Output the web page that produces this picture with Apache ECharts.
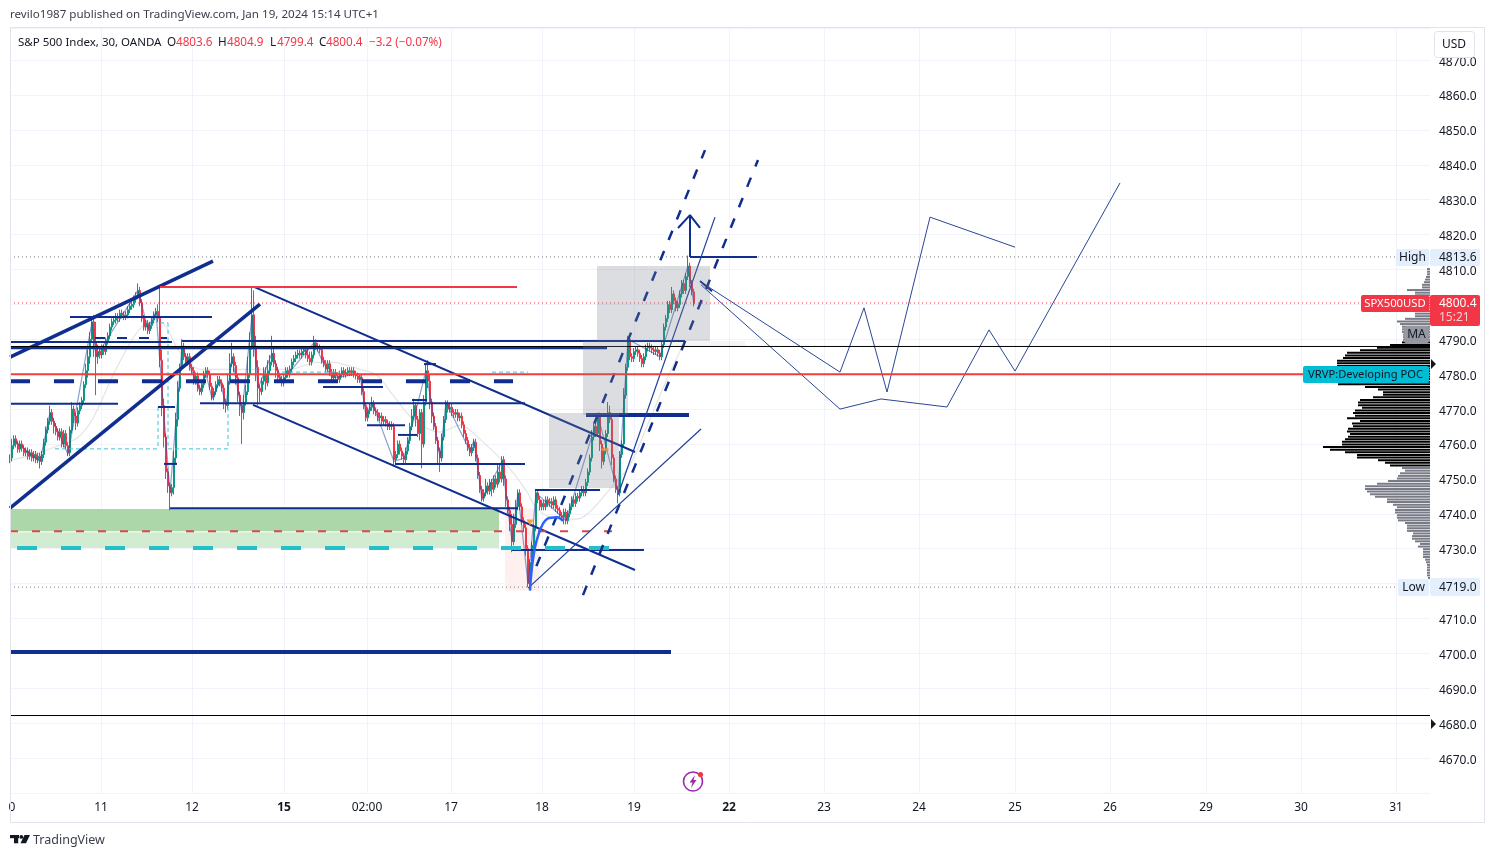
<!DOCTYPE html>
<html><head><meta charset="utf-8">
<style>html,body{margin:0;padding:0;background:#fff}#c{width:1494px;height:857px}</style>
<script src="https://cdn.jsdelivr.net/npm/echarts@6/dist/echarts.min.js"></script>
</head><body><div id="c"></div>
<script>
// ---- price data: one bar per 30 minutes, x axis counted in bars
const closes=[
4756.0,4759.5,4761.5,4760.0,4758.5,4760.0,4758.8,4757.5,4758.0,4756.5,
4757.5,4756.0,4757.0,4755.5,4756.5,4755.0,4757.0,4760.5,4764.0,4766.5,
4769.0,4766.5,4765.0,4763.5,4762.0,4763.5,4760.0,4763.0,4759.5,4757.5,
4764.0,4770.0,4768.0,4766.0,4769.5,4771.0,4772.5,4777.0,4781.0,4785.0,
4790.0,4795.0,4789.0,4785.0,4786.5,4785.5,4787.5,4786.5,4789.5,4791.0,
4793.5,4795.0,4795.5,4796.5,4796.0,4797.5,4797.0,4796.5,4797.0,4798.5,
4799.5,4800.0,4801.5,4802.5,4804.0,4800.5,4796.0,4793.5,4794.5,4792.5,
4794.0,4795.5,4797.0,4798.0,4796.0,4784.0,4771.0,4762.0,4752.0,4748.0,
4746.0,4747.5,4756.0,4767.0,4776.0,4782.0,4788.0,4785.0,4783.5,4785.0,
4782.0,4781.0,4778.0,4779.5,4776.0,4775.0,4777.0,4780.0,4781.0,4780.0,
4776.5,4773.5,4775.0,4777.0,4778.5,4777.5,4776.0,4772.0,4771.0,4778.0,
4783.0,4785.0,4782.5,4779.0,4774.0,4771.0,4769.0,4772.0,4775.0,4780.0,
4788.0,4797.0,4788.0,4782.0,4776.0,4775.0,4778.0,4780.0,4777.5,4781.0,
4783.5,4786.0,4783.0,4781.0,4779.0,4778.5,4777.5,4779.0,4781.0,4780.0,
4781.5,4783.5,4784.5,4785.5,4786.0,4785.5,4786.5,4787.0,4785.5,4784.5,
4783.5,4785.5,4789.0,4788.0,4787.5,4787.0,4784.0,4783.0,4781.5,4783.0,
4780.5,4779.0,4780.5,4779.5,4778.5,4780.0,4781.0,4780.0,4780.5,4781.0,
4780.5,4781.0,4780.0,4779.5,4778.5,4779.0,4775.0,4771.0,4767.5,4769.5,
4770.5,4771.5,4769.5,4769.0,4767.5,4768.0,4766.5,4767.0,4766.0,4765.0,
4765.5,4765.0,4755.5,4757.0,4760.0,4758.0,4756.5,4755.5,4758.0,4761.0,
4765.0,4768.0,4771.0,4767.0,4763.0,4769.0,4760.0,4772.0,4781.0,4778.0,
4772.0,4768.0,4765.0,4761.0,4758.0,4756.0,4762.0,4767.0,4771.5,4770.0,
4770.5,4769.0,4768.5,4769.0,4767.5,4768.0,4765.5,4763.0,4761.0,4759.0,
4757.5,4759.0,4760.5,4756.0,4751.0,4747.0,4744.5,4746.0,4748.0,4746.5,
4749.0,4747.0,4750.0,4748.5,4752.0,4750.0,4755.5,4750.0,4744.0,4741.0,
4737.0,4732.0,4737.0,4742.0,4746.0,4742.0,4738.0,4736.0,4730.0,4720.0,
4726.0,4731.0,4736.0,4746.0,4744.0,4742.0,4743.0,4742.0,4744.0,4743.0,
4743.5,4742.5,4744.0,4741.5,4741.0,4739.5,4739.0,4740.5,4738.0,4740.0,
4742.0,4744.0,4743.0,4745.0,4744.5,4746.0,4747.0,4746.0,4749.0,4752.0,
4756.0,4762.0,4765.0,4763.0,4768.0,4760.0,4755.0,4758.0,4763.0,4769.0,
4767.0,4756.0,4750.0,4747.0,4746.0,4757.0,4760.0,4774.0,4782.0,4790.0,
4785.0,4784.5,4786.5,4787.0,4786.0,4784.5,4783.0,4785.0,4787.5,4788.0,
4787.5,4787.0,4786.5,4787.0,4786.0,4785.0,4788.5,4793.5,4796.0,4800.0,
4798.5,4803.0,4801.0,4799.0,4800.0,4803.0,4806.0,4804.0,4808.0,4811.0,
4806.0,4803.6,4800.4];
const firstOpen=4755.5;
const upperWicks=[
1,2,1,1,1,1,1,1,1,1, 1,1,1,1,1,1,1,1,1,1, 2,1,1,1,1,1,1,1,1,1, 1,2,1,1,1,1,1,1,2,2,
2,1,2,6,2,1,1,1,1,1, 1,1,1,1,1,1,1,1,1,1, 1,1,1,1,2,1,1,1,1,1, 1,1,1,1,2,9,3,2,1,1,
1,1,2,2,2,1,2,1,1,1, 1,1,1,1,1,1,1,1,1,1, 1,1,1,1,1,1,1,1,1,2, 3,4,1,1,1,1,1,2,2,5,
4,8,7,3,2,1,1,2,2,3, 2,5,2,1,1,1,1,1,1,1, 1,1,1,1,1,1,1,1,1,2, 2,1,2,1,1,1,1,1,1,1,
1,1,1,1,1,1,1,1,1,1, 1,1,1,1,1,1,1,1,1,1, 1,2,1,1,1,1,1,1,1,1, 1,1,1,1,1,1,1,1,1,1,
1,2,2,1,1,1,1,2,2,3, 2,1,1,1,1,1,1,1,1,1, 1,1,1,1,1,1,1,1,1,1, 1,1,1,1,1,1,1,1,2,1,
1,1,1,1,2,2,1,1,1,1, 1,3,3,2,1,1,1,1,1,1, 1,1,1,1,1,1,1,1,1,1, 1,1,1,1,1,1,1,1,1,1,
1,1,1,1,1,1,1,1,1,1, 1,2,1,1,1,1,1,1,1,3, 2,1,1,1,1,1,1,2,1,1, 1,1,1,1,1,1,1,1,1,1,
1,1,1,1,1,1,1,1,1,1, 1,2,1,1,1,1,1,1,1,3, 1,1,0.9];
const lowerWicks=[
1,1,1,1,1,1,1,1,1,1, 1,1,1,1,1,2,1,1,1,1, 1,1,2,1,1,1,1,1,1,1, 1,1,2,2,1,1,1,1,1,2,
2,1,4,11,2,1,1,1,1,1, 1,1,1,1,1,1,1,1,1,1, 1,1,1,1,1,1,1,1,1,1, 1,1,1,1,1,2,3,3,2,2,
5,1,2,2,2,1,1,1,1,1, 1,1,1,1,1,1,1,1,1,1, 1,1,1,1,1,1,1,2,2,1, 1,1,2,2,2,3,9,2,1,1,
1,1,3,4,5,3,1,1,2,1, 1,1,1,2,1,1,1,1,1,1, 1,1,1,1,1,1,1,1,1,1, 1,1,1,1,1,1,1,1,1,1,
1,1,1,1,1,1,1,1,1,1, 1,1,1,1,1,1,1,1,1,1, 1,1,1,1,1,1,1,1,1,1, 1,1,2,1,1,1,1,1,1,1,
1,1,1,2,1,2,7,1,1,2, 2,2,1,1,4,4,1,1,1,1, 1,1,1,1,1,1,1,1,1,1, 1,1,1,1,1,1,1,1,1,1,
1,2,1,1,1,1,1,2,2,1, 2,3,1,1,1,1,1,1,2,1, 1,1,1,1,1,1,1,1,1,1, 1,1,1,1,1,1,1,2,1,1,
1,1,1,1,1,1,1,1,1,1, 1,1,1,1,1,2,2,1,1,1, 1,2,1,1,3,1,1,1,1,1, 1,1,1,1,1,1,1,1,1,1,
1,1,1,1,1,1,1,1,1,1, 1,1,1,1,1,1,1,1,1,1, 1,1,1];
// ---- axis ticks
const gridValues=[45.5,91,137,178.5,220.5,266,312,359.5,407,454.5,502.5,550,598,645.5,693];
const tickNames=['11','12','15','02:00','17','18','19','22','23','24','25','26','29','30','31'];
const clippedTick=1, clippedName='0';
// ---- drawn objects, all in [bar, price]
const wedgeUpper=[[0,4784.9],[101.5,4812.4]], wedgeLower=[[0,4741.6],[125,4800.1]];
const channelUpper=[[122,4805],[312.5,4757.7]], channelLower=[[121.5,4771.2],[312.5,4723.9]];
const redTop=[[75,4805],[253.5,4805]];
const redLevel=[[0,4780],[650,4780]], blackLevels=[4787.94,4682.2];
const thinLevels=[[30,101,4796.4],[0,81,4789.2],[86,337.5,4789.5],[0,298.5,4787.6,3],[0,54,4771.5],[95,257.5,4771.7],
 [156.5,186.5,4776.3],[74,82.5,4770.6],[77,83.5,4754.3],[80,254,4741.6],[178.5,197.5,4765.4],[194,203.5,4762.6],
 [201,208.5,4772.6],[207,213,4782.9],[192.5,257.5,4754.3],[262.5,295,4746.8],[251,317,4729.6],[340,373.5,4813.6]];
const thickLevels=[[288,339.5,4768.3],[0,330.5,4700.4]];
const navyDash=[[0,251.5,4778]], navyShortDash=[[42.5,78.5,4790.4]];
const riseArrow=[[334,4821.9],[340,4825.6],[345,4821.9]], riseStem=[[340,4813.6],[340,4825.6]];
const dashRise1=[[263.2,4725],[347.5,4844.2]], dashRise2=[[286.5,4716.7],[374,4841.4]];
const thinRise1=[[259,4718.7],[345.5,4764.3]], thinRise2=[[304,4745.4],[352.5,4825]];
const forecastA=[[345.5,4806.4],[415,4780.6],[427,4799],[438.5,4774.9],[460,4825],[502.5,4816.4]];
const forecastB=[[345.5,4805.6],[415,4770],[435.5,4772.9],[468.5,4770.6],[489.5,4792.7],[502.5,4780.9],[555,4834.8]];
const forecastTick=[[345,4806.7],[351,4803.8]];
const blueCurve=[[260,4718],[261.5,4727],[264,4733.6],[268.5,4738.5],[273.5,4739],[276.5,4738]];
const pivots=[[2,4761],[15,4755],[20,4769],[29,4757],[41,4795],[43,4785],[64,4804],[69,4793],[73,4798],[80,4746],[86,4788],[95,4775],[98,4780],[101,4773],[105,4778],[108,4771],[111,4785],[116,4769],[121,4797],[124,4776],[131,4786],[136,4778],[152,4789],[156,4784],[161,4779],[175,4780],[178,4768],[181,4772],[192,4755],[197,4756],[208,4781],[215,4756],[218,4772],[230,4758],[232,4761],[236,4744],[246,4755],[251,4732],[254,4746],[259,4720],[263,4746],[278,4738],[294,4768],[304,4746],[309,4790],[325,4785],[339,4811],[342,4800]];
const maLine=[[0,4755.4],[11.5,4756.8],[23.5,4759.4],[33.5,4761.7],[41.5,4767.4],[51.5,4779.7],[61.5,4790.3],[68.5,4794.6],[75,4794.9],[85,4786.3],[95,4781.4],[140,4781.4],[153.5,4783.4],[161.5,4783.4],[175,4781.4],[183.5,4779.7],[191.5,4774],[201.5,4767.1],[215,4763.4],[225,4765.4],[236.5,4760.6],[250,4752.9],[258.5,4746.3],[263.5,4741.4],[273.5,4738.5],[283.5,4738.5],[290,4740.6],[300,4747.1],[310,4754],[320,4767.1],[328.5,4778.6],[336.5,4788.3]];
const cyanDashes=[[[22.5,4758.6],[74,4758.6]],[[79,4758.6],[109,4758.6]],[[74,4770.6],[74,4758.6]],[[79,4794.7],[79,4758.6]],[[75,4794.7],[79,4794.7]],[[109,4770.6],[109,4758.6]],[[136,4780.6],[165,4780.6]],[[241,4780.6],[259,4780.6]]];
const redDash=[[0,302,4735]], tealDash=[[3.5,300,4730.2]];
const greenBoxes=[[0,244.5,4741.4,4735,'#acd7a8'],[0,244.5,4734.7,4730.2,'#d2ecd2'],[247.5,264.5,4741.5,4718,'#fdf0ef']];
const greyBoxes=[[293.5,350,4811,4789.5],[286.5,309,4789.5,4768.3],[269.5,304.5,4768.9,4747.4]];
const paleBox=[[309,367.5,4789.5,4788]];
const orangeMarks=[[260,4737.5,'triangle'],[297.5,4758.4,'rect']];
const highPrice=4813.6,lowPrice=4719.0,lastPrice=4800.4;
const yMin=4660,yMax=4879.2,barsWide=710;
// ---- volume profile, top row first, in row lengths
const profileTop=4810.4,profileStep=0.75;
const profile=[3,3,3,4,5,6,8,8,23,15,15,10,8,8,10,12,14,15,15,25,33,30,28,28,28,27,27,27,28,
40,53,70,83,85,87,93,93,93,90,88,88,90,90,92,92,65,52,47,47,57,70,72,72,68,75,77,75,83,70,78,77,82,83,80,82,85,88,88,107,100,85,73,73,52,45,40,
28,25,30,32,33,42,53,65,65,63,60,55,43,43,37,33,35,35,33,33,32,25,23,23,23,17,18,18,15,10,12,7,7,7,7,5,4,3,3,3,3,3,2];
const blackFrom=28,blackTo=75;
// ---- texts
const titleText='revilo1987 published on TradingView.com, Jan 19, 2024 15:14 UTC+1';
const legendParts=[['S&P 500 Index, 30, OANDA',18,0],['O',167,0],['4803.6',176,1],['H',218,0],['4804.9',227,1],['L',270,0],['4799.4',277,1],['C',319,0],['4800.4',326,1],['\u22123.2 (\u22120.07%)',369,1]];

const FONT='"Noto Sans"',INK='#131722',RED='#f23645',NAVY='#0f2e8f';
let open=firstOpen;
const candles=closes.map((c,i)=>{const o=open;open=c;return [i,o,c,Math.min(o,c)-lowerWicks[i],Math.max(o,c)+upperWicks[i]];});
const series=[];
function line(pts,color,width,opt){opt=opt||{};series.push({type:'line',data:pts,symbol:'none',silent:true,z:opt.z||10,smooth:opt.smooth||false,
  lineStyle:{color,width,type:opt.dash||'solid',opacity:opt.op==null?1:opt.op,cap:'butt'}});}
function rects(list,colorOf,z){series.push({type:'custom',silent:true,z,data:list.map(r=>r.slice(0,4)),
  encode:{x:[0,1],y:[2,3]},
  renderItem(p,api){const a=api.coord([api.value(0),api.value(2)]),b=api.coord([api.value(1),api.value(3)]);
    return {type:'rect',shape:{x:a[0],y:a[1],width:b[0]-a[0],height:b[1]-a[1]},style:{fill:colorOf(list[p.dataIndex])}};}});}
rects(greenBoxes,r=>r[4],2);
line([[0,highPrice],[barsWide,highPrice]],'#787b86',1,{dash:[1,3],z:3});
line([[0,lowPrice],[barsWide,lowPrice]],'#787b86',1,{dash:[1,3],z:3});
line([[0,lastPrice],[barsWide,lastPrice]],RED,1,{dash:[1,3],z:3});
line(maLine,'#e4e4e6',1.2,{z:4,smooth:0.3});
series.push({type:'candlestick',data:candles,barWidth:2,silent:true,z:5,encode:{x:0,y:[1,2,3,4]},
  itemStyle:{color:'#089981',color0:RED,borderColor:'#089981',borderColor0:RED,borderWidth:1}});
line(pivots,'#2f4fa8',1.2,{z:6,op:0.55});
cyanDashes.forEach(s=>line(s,'#38c6d6',1,{dash:[4,3],z:7}));
line(wedgeUpper,NAVY,3.5);line(wedgeLower,NAVY,3.5);
line(channelUpper,NAVY,2);line(channelLower,NAVY,2);
line(redTop,RED,2);
thinLevels.forEach(l=>line([[l[0],l[2]],[l[1],l[2]]],NAVY,l[3]||2));
thickLevels.forEach(l=>line([[l[0],l[2]],[l[1],l[2]]],NAVY,4));
navyDash.forEach(l=>line([[l[0],l[2]],[l[1],l[2]]],NAVY,4,{dash:[20,24]}));
navyShortDash.forEach(l=>line([[l[0],l[2]],[l[1],l[2]]],NAVY,2,{dash:[10,12]}));
redDash.forEach(l=>line([[l[0],l[2]],[l[1],l[2]]],'#d84a4a',2,{dash:[8,14]}));
tealDash.forEach(l=>line([[l[0],l[2]],[l[1],l[2]]],'#22c1c9',4,{dash:[20,24]}));
line(redLevel,'#f23d3d',2,{z:11});
blackLevels.forEach(p=>line([[0,p],[barsWide,p]],'#000',1,{z:12}));
line(riseStem,NAVY,2);line(riseArrow,NAVY,2);
line(dashRise1,NAVY,2.5,{dash:[10,12]});line(dashRise2,NAVY,2.5,{dash:[10,12]});
line(thinRise1,'#1f3f9c',1.2);line(thinRise2,'#1f3f9c',1.2);
line(forecastA,'#2a4798',1);line(forecastB,'#2a4798',1);line(forecastTick,NAVY,2);
line(blueCurve,'#2962ff',2.5,{smooth:0.4,z:13});
rects(greyBoxes,()=>'rgba(120,123,134,0.26)',14);
rects(paleBox,()=>'rgba(120,123,134,0.08)',14);
series.push({type:'scatter',silent:true,z:15,data:orangeMarks.map(m=>({value:[m[0],m[1]],symbol:m[2],symbolRotate:m[2]==='triangle'?180:0,symbolSize:m[2]==='triangle'?[7,6]:[7,2.5]})),itemStyle:{color:'#f5962e',opacity:.9}});
series.push({type:'custom',silent:true,z:16,data:profile.map((v,i)=>[v,profileTop-i*profileStep,i]),
  encode:{x:0,y:1},
  renderItem(p,api){const v=api.value(0),pr=api.value(1),a=api.coord([barsWide-v/2,pr]),b=api.coord([barsWide,pr]);
    const idx=p.dataIndex,black=idx>=blackFrom&&idx<=blackTo;
    return {type:'rect',shape:{x:a[0],y:a[1],width:b[0]-a[0],height:2},style:{fill:black?'#000':'#787b86'}};}});

const chart=echarts.init(document.getElementById('c'),null,{renderer:'canvas',width:1494,height:857});
const boldTicks=new Set(['15','22']);
chart.setOption({animation:false,backgroundColor:'#fff',textStyle:{fontFamily:FONT},
 grid:{left:10,right:64,top:28,bottom:64,containLabel:false},
 xAxis:{type:'value',min:0,max:barsWide,
  axisLine:{show:false},
  axisTick:{show:false,customValues:gridValues},
  splitLine:{show:true,lineStyle:{color:'#f0f3fa',width:1}},
  axisLabel:{customValues:[clippedTick].concat(gridValues),margin:9,color:INK,fontSize:12,fontFamily:FONT,hideOverlap:false,
   formatter:v=>{if(v===clippedTick)return clippedName;const n=tickNames[gridValues.indexOf(v)];return boldTicks.has(n)?'{b|'+n+'}':n;},
   rich:{b:{fontWeight:'bold',fontSize:12,color:INK,fontFamily:FONT}}}},
 yAxis:{type:'value',position:'right',min:yMin,max:yMax,interval:10,scale:true,
  axisLine:{show:false},axisTick:{show:false},
  splitLine:{show:true,lineStyle:{color:'#f0f3fa',width:1}},
  axisLabel:{margin:9,color:INK,fontSize:12,fontFamily:FONT,showMinLabel:false,showMaxLabel:false,
   formatter:v=>'{p|'+v.toFixed(1)+'}',rich:{p:{padding:[4,0,0,0],fontSize:12,color:INK,fontFamily:FONT}}}},
 series});

const py=p=>Math.round(chart.convertToPixel({yAxisIndex:0},p));
const g=[];
function box(x,y,w,h,fill,r,z,stroke){g.push({type:'rect',z:z||100,silent:true,shape:{x,y,width:w,height:h,r:r||0},style:{fill,stroke:stroke||null,lineWidth:1}});}
function txt(x,y,text,fill,size,align,weight){g.push({type:'text',z:102,silent:true,x,y:y+1,style:{text,fill,font:(weight||'normal')+' '+(size||12)+'px '+FONT,textAlign:align||'left',textVerticalAlign:'middle'}});}
// frame
box(1432,28,51,29,'#fff',0,99);
g.push({type:'rect',z:98,silent:true,shape:{x:10.5,y:27.5,width:1474,height:795},style:{fill:null,stroke:'#e0e3eb',lineWidth:1}});
box(1434.5,31.5,40,26,'#fff',3,100,'#e0e3eb');txt(1454,44,'USD',INK,12,'center');
// title and legend
txt(10,14,titleText,'#3a3e4a',11.6);
legendParts.forEach(l=>txt(l[1],41.5,l[0],l[2]?RED:INK,l[1]===18?11.5:11.7));
// price tags
const hy=py(highPrice),ly=py(lowPrice),cy=py(lastPrice);
box(1396,hy-8,33,17,'#e3effd',2);txt(1412.5,hy,'High',INK,12,'center');
box(1430,hy-8,50,17,'#e3effd',2);txt(1439,hy,'4813.6',INK,12);
box(1398,ly-8,31,17,'#e3effd',2);txt(1413.5,ly,'Low',INK,12,'center');
box(1430,ly-9,50,18,'#e3effd',2);txt(1439,ly,'4719.0',INK,12);
box(1361,cy-8,68,17,RED,2);txt(1395,cy,'SPX500USD','#fff',11.3,'center');
box(1430,cy-8,50,31,RED,2);txt(1439,cy,'4800.4','#fff',12);txt(1439,cy+14,'15:21','#fbd0d5',12);
box(1404,py(4793.8),25,17,'#9598a1',2);txt(1416.5,py(4793.8)+8,'MA',INK,12,'center');
box(1303,py(4782.4),126,17,'#00bcd4',2);txt(1308,py(4782.4)+8,'VRVP:Developing POC',INK,11.2);
[py(4782.9),py(4682.2)+8].forEach(y=>g.push({type:'polygon',z:101,silent:true,shape:{points:[[1431,y-5],[1436,y],[1431,y+5]]},style:{fill:'#131722'}}));
// lightning icon
g.push({type:'circle',z:101,silent:true,shape:{cx:693,cy:781.5,r:9.5},style:{fill:'#fff',stroke:'#9c27b0',lineWidth:1.6}});
g.push({type:'polygon',z:102,silent:true,shape:{points:[[695,775],[689.5,782.5],[692.5,782.5],[691,788],[696.5,780],[693.5,780]]},style:{fill:'#9c27b0'}});
g.push({type:'circle',z:103,silent:true,shape:{cx:700.5,cy:774.5,r:2.6},style:{fill:RED}});
// footer logo
box(10,835,9,3.2,INK,0);box(14,835,4.2,8.3,INK,0);
g.push({type:'circle',z:101,silent:true,shape:{cx:21.3,cy:836.9,r:1.9},style:{fill:INK}});
g.push({type:'polygon',z:101,silent:true,shape:{points:[[24.5,835],[30,835],[26,843.3],[20.5,843.3]]},style:{fill:INK}});
txt(33,839,'TradingView','#3a3e4a',12.5);
chart.setOption({graphic:g});
</script></body></html>
